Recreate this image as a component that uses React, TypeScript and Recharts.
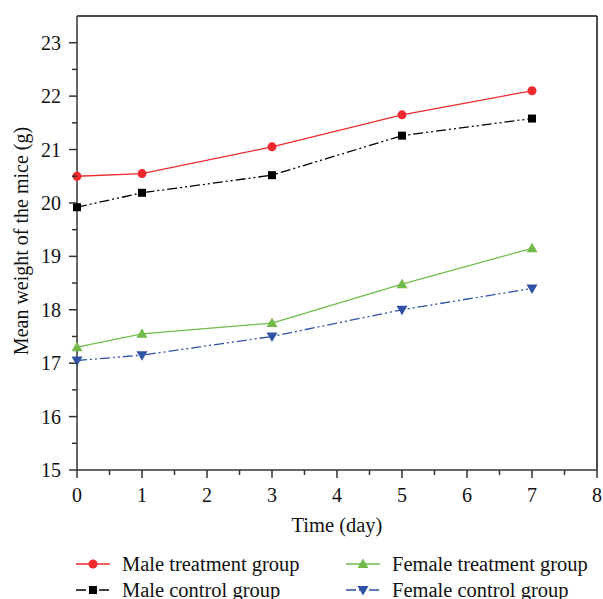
import { LineChart, Line, XAxis, YAxis, ReferenceLine, Legend } from "recharts";

const days = [0, 1, 3, 5, 7];
const maleTreatment = [20.5, 20.55, 21.05, 21.65, 22.1];
const maleControl = [19.92, 20.19, 20.52, 21.26, 21.58];
const femaleTreatment = [17.3, 17.55, 17.75, 18.48, 19.15];
const femaleControl = [17.05, 17.15, 17.5, 18.0, 18.4];

const xTicks = [0, 0.5, 1, 1.5, 2, 2.5, 3, 3.5, 4, 4.5, 5, 5.5, 6, 6.5, 7, 7.5, 8];
const yTicks = [15, 15.5, 16, 16.5, 17, 17.5, 18, 18.5, 19, 19.5, 20, 20.5, 21, 21.5, 22, 22.5, 23];

const data = days.map((d, i) => ({
  day: d,
  mt: maleTreatment[i],
  mc: maleControl[i],
  ft: femaleTreatment[i],
  fc: femaleControl[i],
}));

const FONT = "'Liberation Serif', 'DejaVu Serif', serif";
const AXIS = "#333";

const series = [
  { key: "mt", name: "Male treatment group", color: "#ee2a2f", dash: undefined, shape: "circle" },
  { key: "mc", name: "Male control group", color: "#000000", dash: "10 3 2 3 2 3", shape: "square" },
  { key: "ft", name: "Female treatment group", color: "#72bb4b", dash: undefined, shape: "up" },
  { key: "fc", name: "Female control group", color: "#2f52a5", dash: "10 3 2 3 2 3", shape: "down" },
];

function Marker({ cx, cy, shape, color }: any) {
  if (shape === "circle") return <circle cx={cx} cy={cy} r={4.5} fill={color} />;
  if (shape === "square") return <rect x={cx - 4} y={cy - 4} width={8} height={8} fill={color} />;
  if (shape === "up")
    return <path d={`M${cx},${cy - 5.5} L${cx - 5.5},${cy + 4} L${cx + 5.5},${cy + 4} Z`} fill={color} />;
  return <path d={`M${cx},${cy + 5.5} L${cx - 5.5},${cy - 4} L${cx + 5.5},${cy - 4} Z`} fill={color} />;
}

const YTick = ({ x, y, payload }: any) => {
  const major = Number.isInteger(payload.value);
  return (
    <g>
      <line x1={x - (major ? 8 : 5)} y1={y} x2={x} y2={y} stroke={AXIS} strokeWidth={1.5} />
      {major && (
        <text x={x - 16} y={y} dy={7} textAnchor="end" fontSize={20} fontFamily={FONT} fill="#111">
          {payload.value}
        </text>
      )}
    </g>
  );
};

const XTick = ({ x, y, payload }: any) => {
  const major = Number.isInteger(payload.value);
  return (
    <g>
      <line x1={x} y1={y} x2={x} y2={y + (major ? 8 : 5)} stroke={AXIS} strokeWidth={1.5} />
      {major && (
        <text x={x} y={y + 32} textAnchor="middle" fontSize={20} fontFamily={FONT} fill="#111">
          {payload.value}
        </text>
      )}
    </g>
  );
};

const LegendBox = () => (
  <div
    style={{
      display: "grid",
      gridTemplateColumns: "270px 260px",
      gridTemplateRows: "26px 26px",
      gridAutoFlow: "column",
      paddingLeft: 76,
      fontFamily: FONT,
      fontSize: 20.5,
      color: "#111",
    }}
  >
    {series.map((s) => (
      <div key={s.key} style={{ display: "flex", alignItems: "center", height: 26 }}>
        <svg width={36} height={14} style={{ overflow: "visible" }}>
          <line x1={0} y1={7} x2={34} y2={7} stroke={s.color} strokeWidth={1.3} strokeDasharray={s.dash} />
          <Marker cx={17} cy={7} shape={s.shape} color={s.color} />
        </svg>
        <span style={{ marginLeft: 10, whiteSpace: "nowrap" }}>{s.name}</span>
      </div>
    ))}
  </div>
);

export default function App() {
  return (
    <div style={{ position: "absolute", left: 0, top: 0, background: "#fff" }}>
      <LineChart width={603} height={599} data={data} margin={{ top: 16, right: 6, left: 0, bottom: 0 }}>
        <XAxis
          dataKey="day"
          type="number"
          domain={[0, 8]}
          ticks={xTicks}
          interval={0}
          tickSize={0}
          tickMargin={0}
          tick={<XTick />}
          height={77}
          stroke={AXIS}
          strokeWidth={1.5}
          label={({ viewBox }: any) => (
            <text
              x={viewBox.x + viewBox.width / 2}
              y={viewBox.y + 62}
              textAnchor="middle"
              fontSize={20.5}
              fontFamily={FONT}
              fill="#111"
            >
              Time (day)
            </text>
          )}
        />
        <YAxis
          type="number"
          domain={[15, 23.5]}
          ticks={yTicks}
          interval={0}
          tickSize={0}
          tickMargin={0}
          tick={<YTick />}
          width={77}
          stroke={AXIS}
          strokeWidth={1.5}
          label={({ viewBox }: any) => {
            const cx = 21;
            const cy = viewBox.y + viewBox.height / 2 - 2;
            return (
              <text
                x={cx}
                y={cy}
                transform={`rotate(-90 ${cx} ${cy})`}
                textAnchor="middle"
                dominantBaseline="central"
                fontSize={20}
                fontFamily={FONT}
                fill="#111"
              >
                Mean weight of the mice (g)
              </text>
            );
          }}
        />
        <ReferenceLine y={23.5} stroke="#111" strokeWidth={1.5} />
        <ReferenceLine x={8} stroke="#111" strokeWidth={1.5} />
        {series.map((s) => (
          <Line
            key={s.key}
            dataKey={s.key}
            name={s.name}
            type="linear"
            stroke={s.color}
            strokeWidth={1.3}
            strokeDasharray={s.dash}
            isAnimationActive={false}
            dot={(p: any) => <Marker key={`${s.key}-${p.index}`} cx={p.cx} cy={p.cy} shape={s.shape} color={s.color} />}
            activeDot={false}
          />
        ))}
        <Legend
          verticalAlign="bottom"
          content={<LegendBox />}
          wrapperStyle={{ position: "absolute", left: 0, top: 551, width: 603, height: 52 }}
        />
      </LineChart>
    </div>
  );
}
